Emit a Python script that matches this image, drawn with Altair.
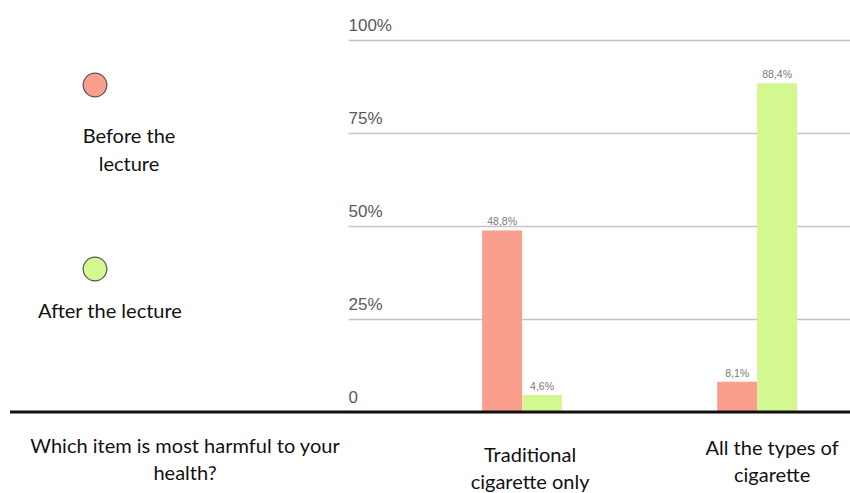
import altair as alt
import pandas as pd

# Survey answers: share of respondents per answer, before and after the lecture
categories = ["Traditional cigarette only", "All the types of cigarette"]
category_lines = ["Traditional\ncigarette only", "All the types of\ncigarette"]
series = ["Before the lecture", "After the lecture"]
legend_lines = ["Before the\nlecture", "After the lecture"]
before = [0.488, 0.081]
after = [0.046, 0.884]
question = "Which item is most harmful to your\nhealth?"
y_ticks = [0, 0.25, 0.5, 0.75, 1.0]
colors = ["#FA9F8E", "#D3F890"]

rows = []
for cat, b, a in zip(categories, before, after):
    rows.append({"category": cat, "series": series[0], "value": b})
    rows.append({"category": cat, "series": series[1], "value": a})
df = pd.DataFrame(rows)
cat_df = pd.DataFrame({"category": categories, "lines": category_lines})
legend_df = pd.DataFrame({"series": series, "lines": legend_lines})
base_df = pd.DataFrame({"zero": [0]})
q_df = pd.DataFrame({"q": [question]})

FONT = "Lato"
TEXT_SIZE = 20

x_scale = alt.Scale(domain=categories, paddingInner=0.66, paddingOuter=0.398, align=0.717)
y_scale = alt.Scale(domain=[0, 1], nice=False)
color_scale = alt.Scale(domain=series, range=colors)

x_enc = alt.X("category:N", sort=categories, scale=x_scale, axis=None)
xoff_enc = alt.XOffset("series:N", sort=series,
                       scale=alt.Scale(domain=series, paddingInner=0, paddingOuter=0))

bars = alt.Chart(df).mark_bar().encode(
    x=x_enc,
    xOffset=xoff_enc,
    y=alt.Y("value:Q", scale=y_scale,
            axis=alt.Axis(values=y_ticks, orient="left", title=None,
                          labelExpr="datum.value == 0 ? '0' : format(datum.value, '.0%')",
                          labelAlign="left", labelPadding=0, tickSize=0, ticks=False,
                          domain=False, labelFontSize=17, labelColor="#5a5a5a",
                          labelFont="Liberation Sans", labelBaseline="alphabetic",
                          labelOffset=-10, labelFlush=False, labelOverlap=False,
                          grid=True, gridColor="#c4c4c4", gridWidth=1.3)),
    color=alt.Color("series:N", scale=color_scale, legend=None),
)

values = alt.Chart(df).transform_calculate(
    label="replace(format(datum.value, '.1%'), '.', ',')"
).mark_text(baseline="bottom", dy=-3, fontSize=10.5, color="#7a7a7a",
            font="Liberation Sans").encode(
    x=x_enc,
    xOffset=xoff_enc,
    y=alt.Y("value:Q", scale=y_scale),
    text="label:N",
)

baseline = alt.Chart(base_df).mark_rule(color="#111111", strokeWidth=3).encode(
    x=alt.value(-338), x2=alt.value(502), y=alt.Y("zero:Q", scale=y_scale)
)

# Category names under the axis, each wrapped onto two lines
cat_layers = []
cat_y = [416, 409]
cat_dx = [8, 15]
for i, cat in enumerate(categories):
    cat_layers.append(
        alt.Chart(cat_df).transform_filter(alt.datum.category == cat).mark_text(
            lineBreak="\n", lineHeight=27, fontSize=TEXT_SIZE, font=FONT,
            color="#111111", baseline="middle", dx=cat_dx[i]
        ).encode(x=x_enc, y=alt.value(cat_y[i]), text="lines:N")
    )

q_label = alt.Chart(q_df).mark_text(
    lineBreak="\n", lineHeight=27, fontSize=TEXT_SIZE, font=FONT, color="#111111",
    baseline="middle"
).encode(x=alt.value(-163), y=alt.value(407), text="q:N")

legend_layers = []
dot_y = [45, 229]
text_pos = [(-219, 97), (-238, 272)]
for i, name in enumerate(series):
    sub = alt.Chart(legend_df).transform_filter(alt.datum.series == name)
    legend_layers.append(
        sub.mark_point(filled=True, size=560, stroke="#555555", strokeWidth=1.2,
                       opacity=1).encode(
            x=alt.value(-253), y=alt.value(dot_y[i]),
            color=alt.Color("series:N", scale=color_scale, legend=None),
        )
    )
    legend_layers.append(
        sub.mark_text(lineBreak="\n", lineHeight=28, fontSize=TEXT_SIZE, font=FONT,
                      color="#111111", baseline="middle").encode(
            x=alt.value(text_pos[i][0]), y=alt.value(text_pos[i][1]),
            text="lines:N",
        )
    )

chart = alt.layer(
    bars, values, baseline, *cat_layers, q_label, *legend_layers
).properties(
    width=502, height=372,
    padding={"left": 348, "top": 40, "right": 0, "bottom": 81},
    autosize=alt.AutoSizeParams(type="none"),
    background="white",
).configure_view(stroke=None)

chart.save("out.html", embed_options={"renderer": "svg", "actions": False})
